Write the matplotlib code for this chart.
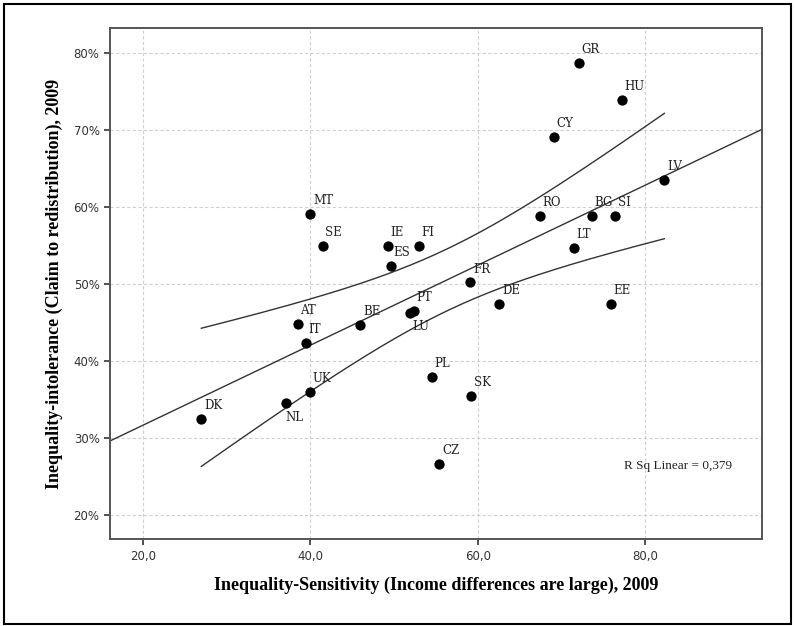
import matplotlib
matplotlib.use("Agg")
import matplotlib.pyplot as plt
from matplotlib.patches import Rectangle
from matplotlib.ticker import FuncFormatter
import numpy as np

# country codes and values
countries = ["MT", "SE", "IE", "ES", "FI", "GR", "HU", "CY", "LV", "RO", "BG",
             "SI", "LT", "FR", "DE", "EE", "PT", "LU", "PL", "SK", "CZ", "AT",
             "IT", "BE", "UK", "NL", "DK"]
sensitivity = [40.0, 41.5, 49.3, 49.6, 53.0, 72.1, 77.2, 69.1, 82.3, 67.4, 73.6,
               76.4, 71.5, 59.1, 62.6, 75.9, 52.4, 51.9, 54.5, 59.2, 55.4, 38.5,
               39.5, 46.0, 40.0, 37.1, 27.0]
intolerance = [59.1, 54.9, 55.0, 52.3, 54.9, 78.7, 73.9, 69.1, 63.5, 58.9, 58.9,
               58.8, 54.7, 50.2, 47.4, 47.4, 46.5, 46.2, 37.9, 35.4, 26.6, 44.8,
               42.3, 44.7, 35.9, 34.5, 32.4]

# labels that sit below the point instead of above
below = {"LU": (2, -14), "NL": (0, -15)}

x = np.array(sensitivity)
y = np.array(intolerance)

# linear fit with 95% confidence band for the mean
n = len(x)
b, a = np.polyfit(x, y, 1)
resid = y - (a + b * x)
s = np.sqrt(np.sum(resid ** 2) / (n - 2))
t = 2.0595  # t(0.975, df=25)
xm = x.mean()
sxx = np.sum((x - xm) ** 2)

fig = plt.figure(figsize=(7.95, 6.26), dpi=100)
ax = fig.add_axes([0.1384, 0.1385, 0.8205, 0.8168])

ax.set_xlim(16.1, 94.0)
ax.set_ylim(16.8, 83.3)

xl = np.array([16.1, 94.0])
ax.plot(xl, a + b * xl, color="#333333", lw=1.0, zorder=2)
xc = np.linspace(x.min(), x.max(), 200)
half = t * s * np.sqrt(1.0 / n + (xc - xm) ** 2 / sxx)
ax.plot(xc, a + b * xc + half, color="#333333", lw=1.0, zorder=2)
ax.plot(xc, a + b * xc - half, color="#333333", lw=1.0, zorder=2)

ax.scatter(x, y, s=55, color="black", zorder=3, linewidths=0)

for c, xi, yi in zip(countries, x, y):
    off = below.get(c, (2, 5))
    ax.annotate(c, (xi, yi), xytext=off, textcoords="offset points",
                fontsize=8.5, family="DejaVu Serif", color="#222222",
                va="bottom", ha="left", zorder=4)

ax.text(0.870, 0.143, "R Sq Linear = 0,379",
        transform=ax.transAxes, fontsize=9.5, family="Liberation Serif",
        ha="center", va="center", color="#222222")

ax.set_xticks([20, 40, 60, 80])
ax.set_yticks([20, 30, 40, 50, 60, 70, 80])
ax.xaxis.set_major_formatter(FuncFormatter(lambda v, p: ("%.1f" % v).replace(".", ",")))
ax.yaxis.set_major_formatter(FuncFormatter(lambda v, p: "%d%%" % v))
ax.tick_params(direction="out", length=4, width=1.2, color="#333333",
               labelsize=8.5, labelcolor="#333333")
ax.grid(True, color="#d0d0d0", linestyle=(0, (3, 2)), linewidth=0.8)
ax.set_axisbelow(True)
for sp in ax.spines.values():
    sp.set_color("#555555")
    sp.set_linewidth(1.4)

ax.set_xlabel("Inequality-Sensitivity (Income differences are large), 2009",
              family="Liberation Serif", fontweight="bold", fontsize=13,
              labelpad=10)
ax.set_ylabel("Inequality-intolerance (Claim to redistribution), 2009",
              family="Liberation Serif", fontweight="bold", fontsize=13,
              labelpad=8)

fig.patches.append(Rectangle((4 / 795, 2 / 626), 787 / 795, 620 / 626,
                             transform=fig.transFigure, fill=False,
                             edgecolor="black", linewidth=1.5))

fig.savefig("out.png", dpi=100)
